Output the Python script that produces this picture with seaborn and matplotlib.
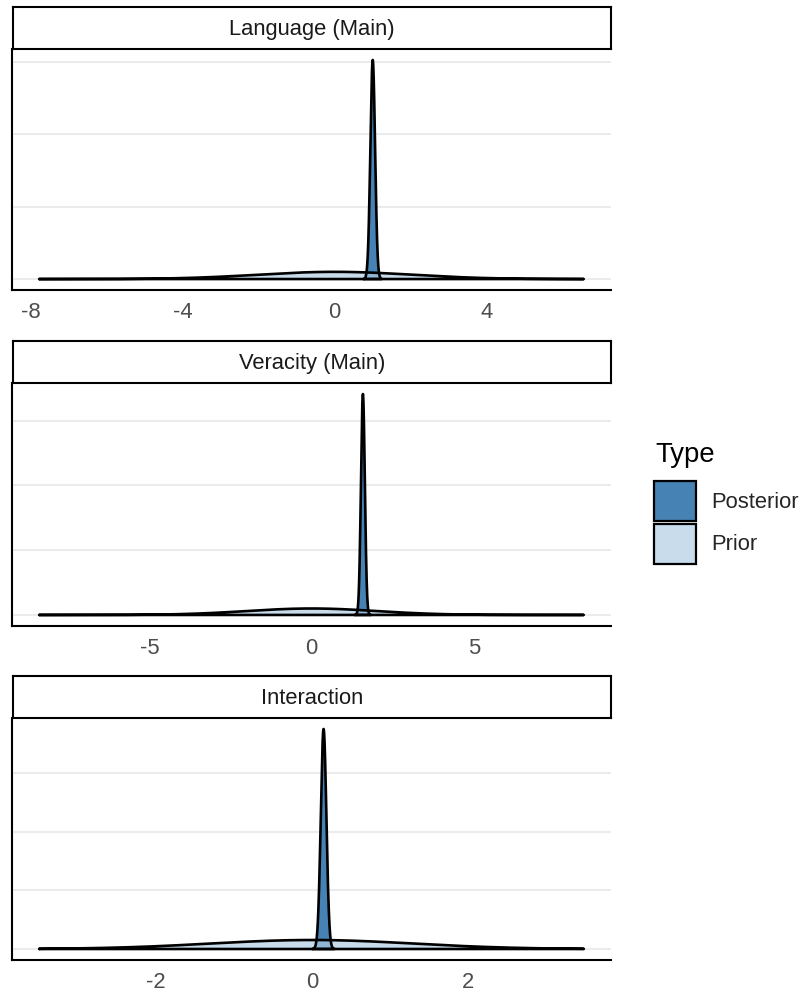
import numpy as np
import pandas as pd
import matplotlib
matplotlib.use("Agg")
import matplotlib.pyplot as plt
from matplotlib.patches import Patch
import seaborn as sns

# ---- distributions per model term -------------------------------------
parameters = ["Language (Main)", "Veracity (Main)", "Interaction"]
prior_center = [0.0, 0.0, 0.0]
prior_sd = [2.0, 2.0, 1.3]
prior_lo = [-7.77, -8.40, -3.50]
prior_hi = [6.55, 8.39, 3.49]
post_center = [1.00, 1.58, 0.15]
post_peak = [6.06, 6.82, 7.50]
post_sd = [0.062, 0.060, 0.036]
post_halfwidth = [0.235, 0.245, 0.14]
x_ticks = [[-8, -4, 0, 4], [-5, 0, 5], [-2, 0, 2]]
y_breaks = [0, 2, 4, 6]
types = ["Posterior", "Prior"]
fill_colors = {"Posterior": "#4682B4", "Prior": "#B0CDE2"}
fill_alpha = {"Posterior": 1.0, "Prior": 0.7}


def bell(x, mu, sd, height):
    return height * np.exp(-0.5 * ((x - mu) / sd) ** 2)


rows = []
for i, p in enumerate(parameters):
    xs = np.linspace(prior_lo[i], prior_hi[i], 600)
    prior_height = 1.0 / (prior_sd[i] * np.sqrt(2 * np.pi))
    for x, d in zip(xs, bell(xs, prior_center[i], prior_sd[i], prior_height)):
        rows.append((p, "Prior", x, d))
    xs = np.linspace(post_center[i] - post_halfwidth[i],
                     post_center[i] + post_halfwidth[i], 400)
    for x, d in zip(xs, bell(xs, post_center[i], post_sd[i], post_peak[i])):
        rows.append((p, "Posterior", x, d))
draws = pd.DataFrame(rows, columns=["Parameter", "Type", "value", "density"])

# ---- figure -----------------------------------------------------------
sns.set_theme(style="white")
plt.rcParams["font.family"] = ["Liberation Sans", "DejaVu Sans"]

W, H = 808, 993
fig = plt.figure(figsize=(W / 100, H / 100), dpi=100)
fig.patch.set_facecolor("white")


def fig_box(left, top, right, bottom):
    return [left / W, 1 - bottom / H, (right - left) / W, (bottom - top) / H]


panel_px = [(49, 290), (383, 626), (718, 960)]
strip_px = [(7, 49), (341, 383), (676, 718)]
LEFT, RIGHT = 12, 611
text_px = 22
fs = text_px * 0.72

for i, p in enumerate(parameters):
    top, bottom = panel_px[i]
    ax = fig.add_axes(fig_box(LEFT, top, RIGHT, bottom))
    sub_all = draws[draws["Parameter"] == p]

    for t in types:
        sub = sub_all[sub_all["Type"] == t].sort_values("value")
        ax.fill_between(sub["value"], 0, sub["density"],
                        color=fill_colors[t], alpha=fill_alpha[t],
                        linewidth=0, zorder=2)
        closed = pd.concat([
            pd.DataFrame({"value": [sub["value"].iloc[0]], "density": [0.0]}),
            sub[["value", "density"]],
            pd.DataFrame({"value": [sub["value"].iloc[-1], sub["value"].iloc[0]],
                          "density": [0.0, 0.0]}),
        ], ignore_index=True)
        sns.lineplot(data=closed, x="value", y="density", sort=False,
                     estimator=None, color="black", linewidth=1.9,
                     ax=ax, zorder=3)
        ax.lines[-1].set_solid_joinstyle("round")

    lo, hi = sub_all["value"].min(), sub_all["value"].max()
    pad = 0.05 * (hi - lo)
    ax.set_xlim(lo - pad, hi + pad)
    ymax = sub_all["density"].max()
    ax.set_ylim(-0.05 * ymax, 1.05 * ymax)

    ax.set_xticks(x_ticks[i])
    ax.set_xticklabels([str(v) for v in x_ticks[i]])
    ax.set_yticks(y_breaks)
    ax.set_yticklabels([])
    ax.set_xlabel("")
    ax.set_ylabel("")
    ax.yaxis.grid(True, color="#EBEBEB", linewidth=1.5, zorder=0)
    ax.xaxis.grid(False)
    ax.set_axisbelow(True)
    ax.tick_params(axis="y", length=0)
    ax.tick_params(axis="x", length=4, width=1.2, color="#333333",
                   pad=4.5, labelsize=fs, labelcolor="#4D4D4D")
    for side in ("top", "right"):
        ax.spines[side].set_visible(False)
    for side in ("left", "bottom"):
        ax.spines[side].set_color("black")
        ax.spines[side].set_linewidth(1.5)

    s_top, s_bottom = strip_px[i]
    sax = fig.add_axes(fig_box(LEFT + 1, s_top, RIGHT, s_bottom))
    sax.set_xticks([])
    sax.set_yticks([])
    sax.set_facecolor("white")
    for sp in sax.spines.values():
        sp.set_color("black")
        sp.set_linewidth(1.5)
    sax.text(0.5, 0.47, p, ha="center", va="center", fontsize=fs,
             color="#1A1A1A", transform=sax.transAxes)

# ---- legend -----------------------------------------------------------
fig.text(655 / W, 1 - 455 / H, "Type", ha="left", va="center",
         fontsize=27.5 * 0.72, color="black")
handles = [
    Patch(facecolor=fill_colors["Posterior"], edgecolor="black", linewidth=1.6),
    Patch(facecolor="#C8DCEB", edgecolor="black", linewidth=1.6),
]
leg = fig.legend(handles, types, loc="upper left",
                 bbox_to_anchor=(654 / W, 1 - 481 / H), frameon=False,
                 fontsize=fs, handlelength=1.9, handleheight=2.4,
                 handletextpad=0.68, labelspacing=0.14, borderpad=0,
                 borderaxespad=0)

fig.savefig("out.png", dpi=100, facecolor="white")
